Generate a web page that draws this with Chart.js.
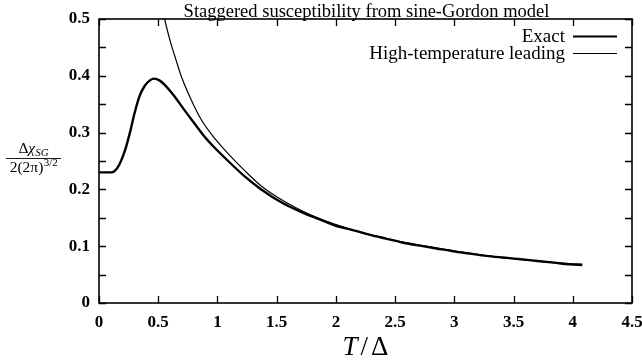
<!DOCTYPE html>
<html><head><meta charset="utf-8">
<script src="https://cdn.jsdelivr.net/npm/chart.js@4/dist/chart.umd.min.js"></script>
<style>html,body{margin:0;padding:0;background:#fff;}</style>
</head><body>
<canvas id="c" width="642" height="362"></canvas>
<script>
// ---- data ----
const titleText = "Staggered susceptibility from sine-Gordon model";
const seriesNames = ["Exact", "High-temperature leading"];
const exactT = [0, 0.05, 0.10, 0.13, 0.17, 0.22, 0.26, 0.30, 0.34, 0.385, 0.43, 0.465, 0.51, 0.555, 0.64, 0.72, 0.81, 0.89, 0.95, 1.09, 1.23, 1.37, 1.55, 1.70, 1.84, 2.00, 2.15, 2.29, 2.43, 2.57, 2.71, 2.85, 2.99, 3.13, 3.27, 3.41, 3.56, 3.70, 3.84, 3.98, 4.08];
const exactV = [0.230, 0.230, 0.230, 0.232, 0.243, 0.269, 0.299, 0.334, 0.363, 0.382, 0.392, 0.395, 0.392, 0.384, 0.363, 0.340, 0.315, 0.293, 0.279, 0.250, 0.223, 0.200, 0.176, 0.161, 0.149, 0.136, 0.128, 0.120, 0.113, 0.106, 0.101, 0.096, 0.091, 0.087, 0.083, 0.080, 0.077, 0.074, 0.071, 0.068, 0.067];
const highT = [0.50, 0.554, 0.60, 0.65, 0.70, 0.78, 0.86, 0.95, 1.09, 1.23, 1.37, 1.50, 1.65, 1.80, 2.00, 2.25, 2.50, 2.75, 3.00, 3.25, 3.50, 3.75, 4.00, 4.08];
const highV = [0.556, 0.500, 0.462, 0.428, 0.396, 0.357, 0.324, 0.297, 0.263, 0.233, 0.206, 0.187, 0.169, 0.154, 0.138, 0.122, 0.110, 0.100, 0.092, 0.084, 0.078, 0.073, 0.069, 0.068];
const xTickValues = [0, 0.5, 1, 1.5, 2, 2.5, 3, 3.5, 4, 4.5];
const xTickLabels = ["0", "0.5", "1", "1.5", "2", "2.5", "3", "3.5", "4", "4.5"];
const yTickValues = [0, 0.05, 0.1, 0.15, 0.2, 0.25, 0.3, 0.35, 0.4, 0.45, 0.5];
const yTickLabels = ["0", "", "0.1", "", "0.2", "", "0.3", "", "0.4", "", "0.5"];

const SERIF = "'Liberation Serif', 'Times New Roman', serif";

function pts(xs, ys) { return xs.map((x, i) => ({ x: x, y: ys[i] })); }

const inwardTicks = {
  id: 'inwardTicks',
  afterDatasetsDraw(chart) {
    const ctx = chart.ctx, a = chart.chartArea;
    const xs = chart.scales.x, ys = chart.scales.y;
    ctx.save();
    ctx.strokeStyle = '#000';
    ctx.lineWidth = 1.6;
    ctx.strokeRect(a.left, a.top, a.right - a.left, a.bottom - a.top);
    ctx.lineWidth = 1.3;
    const L = 7;
    ctx.beginPath();
    xTickValues.forEach(v => {
      const p = Math.round(xs.getPixelForValue(v)) + 0.5;
      ctx.moveTo(p, a.bottom); ctx.lineTo(p, a.bottom - L);
      ctx.moveTo(p, a.top); ctx.lineTo(p, a.top + L);
    });
    yTickValues.forEach(v => {
      const p = Math.round(ys.getPixelForValue(v)) + 0.5;
      ctx.moveTo(a.left, p); ctx.lineTo(a.left + L, p);
      ctx.moveTo(a.right, p); ctx.lineTo(a.right - L, p);
    });
    ctx.stroke();
    ctx.restore();
  },
  afterDraw(chart) {
    const ctx = chart.ctx, a = chart.chartArea;
    ctx.save();
    ctx.fillStyle = '#000';
    // title
    ctx.font = "18.5px " + SERIF;
    ctx.textAlign = 'center';
    ctx.textBaseline = 'alphabetic';
    ctx.fillText(titleText, (a.left + a.right) / 2 + 1, 16.5);
    // legend
    ctx.textAlign = 'right';
    ctx.font = "19px " + SERIF;
    const lx = 565, sx1 = 573, sx2 = 617;
    const rows = [{ y: 41.5, w: 2.2 }, { y: 58.5, w: 1.2 }];
    seriesNames.forEach((n, i) => {
      ctx.fillText(n, lx, rows[i].y);
      ctx.beginPath();
      ctx.lineWidth = rows[i].w;
      ctx.strokeStyle = '#000';
      ctx.moveTo(sx1, rows[i].y - 5); ctx.lineTo(sx2, rows[i].y - 5);
      ctx.stroke();
    });
    // x-axis title  T/Δ
    ctx.textAlign = 'left';
    ctx.font = "italic 27px " + SERIF;
    const wT = ctx.measureText("T").width;
    ctx.font = "27px " + SERIF;
    const wS = ctx.measureText("/").width;
    const wD = ctx.measureText("Δ").width;
    const gap = 3;
    let x0 = (a.left + a.right) / 2 - (wT + wS + wD + 2 * gap) / 2;
    ctx.font = "italic 27px " + SERIF;
    ctx.fillText("T", x0, 355);
    ctx.font = "27px " + SERIF;
    ctx.fillText("/", x0 + wT + gap, 355);
    ctx.fillText("Δ", x0 + wT + wS + 2 * gap, 355);
    // y-axis label: fraction Δχ_SG / 2(2π)^{3/2}
    const cx = 33.5;
    ctx.font = "15.5px " + SERIF; const w1 = ctx.measureText("Δ").width;
    ctx.font = "italic 15.5px " + SERIF; const w2 = ctx.measureText("χ").width;
    ctx.font = "italic 11px " + SERIF; const w3 = ctx.measureText("SG").width;
    let nx = cx - (w1 + w2 + w3) / 2;
    const ny = 153;
    ctx.font = "15.5px " + SERIF; ctx.fillText("Δ", nx, ny);
    ctx.font = "italic 15.5px " + SERIF; ctx.fillText("χ", nx + w1, ny);
    ctx.font = "italic 11px " + SERIF; ctx.fillText("SG", nx + w1 + w2, ny + 3);
    ctx.beginPath(); ctx.lineWidth = 0.9;
    ctx.moveTo(6, 158.5); ctx.lineTo(61, 158.5); ctx.stroke();
    ctx.font = "15.5px " + SERIF; const d1 = ctx.measureText("2(2π)").width;
    ctx.font = "11px " + SERIF; const d2 = ctx.measureText("3/2").width;
    let dx = cx - (d1 + d2) / 2;
    const dy = 172;
    ctx.font = "15.5px " + SERIF; ctx.fillText("2(2π)", dx, dy);
    ctx.font = "11px " + SERIF; ctx.fillText("3/2", dx + d1 + 0.5, dy - 6.5);
    ctx.restore();
  }
};

new Chart(document.getElementById('c'), {
  type: 'scatter',
  data: {
    datasets: [
      { label: seriesNames[0], data: pts(exactT, exactV), showLine: true, borderColor: '#000', borderWidth: 2.4, pointRadius: 0, cubicInterpolationMode: 'monotone', fill: false },
      { label: seriesNames[1], data: pts(highT, highV), showLine: true, borderColor: '#000', borderWidth: 1.2, pointRadius: 0, cubicInterpolationMode: 'monotone', fill: false }
    ]
  },
  options: {
    responsive: false,
    animation: false,
    devicePixelRatio: 1,
    layout: { padding: { left: 0, right: 10, top: 19, bottom: 0 } },
    plugins: { legend: { display: false }, title: { display: false }, tooltip: { enabled: false } },
    scales: {
      x: {
        type: 'linear', min: 0, max: 4.5,
        afterBuildTicks: s => { s.ticks = xTickValues.map(v => ({ value: v })); },
        ticks: { callback: (v, i) => xTickLabels[i], color: '#000', padding: 9, maxRotation: 0, autoSkip: false, font: { family: SERIF, size: 17, weight: 'bold' } },
        grid: { display: false, drawTicks: false },
        border: { display: false },
        afterFit: s => { s.height = 59; s.paddingLeft = 0; s.paddingRight = 0; }
      },
      y: {
        type: 'linear', min: 0, max: 0.5,
        afterBuildTicks: s => { s.ticks = yTickValues.map(v => ({ value: v })); },
        ticks: { callback: (v, i) => yTickLabels[i], color: '#000', padding: 9, autoSkip: false, font: { family: SERIF, size: 17, weight: 'bold' } },
        grid: { display: false, drawTicks: false },
        border: { display: false },
        afterFit: s => { s.width = 99; s.paddingTop = 0; s.paddingBottom = 0; }
      }
    }
  },
  plugins: [inwardTicks]
});
</script>
</body></html>
